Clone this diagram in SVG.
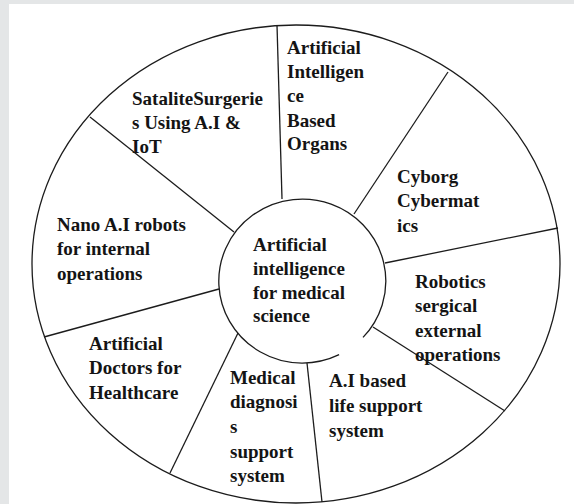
<svg xmlns="http://www.w3.org/2000/svg" width="574" height="504" viewBox="0 0 574 504">
<style>
.bg{fill:#e4e6e7}
.ln{fill:none;stroke:#1c1c1c;stroke-width:1.3}
.t{font-family:'Liberation Serif','Times New Roman',Times,serif;font-size:19px;font-weight:700;fill:#141414}
</style>
<rect class="bg" x="0" y="0" width="574" height="504"/>
<rect x="9" y="4" width="565" height="500" fill="#ffffff"/>
<g id="wheel">
<ellipse class="ln" cx="296" cy="264" rx="264" ry="239"/>
</g>
<g id="connectors">
<line class="ln" x1="277" y1="25" x2="282" y2="199"/>
<line class="ln" x1="448" y1="72" x2="354" y2="214"/>
<line class="ln" x1="558" y1="228" x2="385" y2="263"/>
<line class="ln" x1="373" y1="327" x2="505" y2="411"/>
<line class="ln" x1="307" y1="363" x2="322" y2="502"/>
<line class="ln" x1="238" y1="333" x2="170" y2="473"/>
<line class="ln" x1="219" y1="289" x2="44" y2="337"/>
<line class="ln" x1="90" y1="117" x2="234" y2="232"/>
</g>
<g id="center">
<path class="ln" d="M 339.1 354.7 A 83.5 82 0 1 1 363.0 337.4"/>
<text class="t" x="253" y="251">Artificial</text>
<text class="t" x="253" y="275">intelligence</text>
<text class="t" x="253" y="299">for medical</text>
<text class="t" x="253" y="322">science</text>
</g>
<g id="organs">
<text class="t" x="287" y="54">Artificial</text>
<text class="t" x="287" y="78">Intelligen</text>
<text class="t" x="287" y="102">ce</text>
<text class="t" x="287" y="127">Based</text>
<text class="t" x="287" y="150">Organs</text>
</g>
<g id="cyborg">
<text class="t" x="397" y="183">Cyborg</text>
<text class="t" x="397" y="207">Cybermat</text>
<text class="t" x="397" y="232">ics</text>
</g>
<g id="robotics">
<text class="t" x="415" y="288">Robotics</text>
<text class="t" x="415" y="312">sergical</text>
<text class="t" x="415" y="337">external</text>
<text class="t" x="415" y="361">operations</text>
</g>
<g id="lifesupport">
<text class="t" x="329" y="387">A.I based</text>
<text class="t" x="329" y="412">life support</text>
<text class="t" x="329" y="437">system</text>
</g>
<g id="diagnosis">
<text class="t" x="230" y="384">Medical</text>
<text class="t" x="230" y="408">diagnosi</text>
<text class="t" x="230" y="433">s</text>
<text class="t" x="230" y="458">support</text>
<text class="t" x="230" y="482">system</text>
</g>
<g id="doctors">
<text class="t" x="89" y="350">Artificial</text>
<text class="t" x="89" y="374">Doctors for</text>
<text class="t" x="89" y="399">Healthcare</text>
</g>
<g id="nano">
<text class="t" x="57" y="231">Nano A.I robots</text>
<text class="t" x="57" y="255">for internal</text>
<text class="t" x="57" y="280">operations</text>
</g>
<g id="satellite">
<text class="t" x="132" y="105">SataliteSurgerie</text>
<text class="t" x="132" y="129">s Using A.I &amp;</text>
<text class="t" x="132" y="153">IoT</text>
</g>
</svg>
